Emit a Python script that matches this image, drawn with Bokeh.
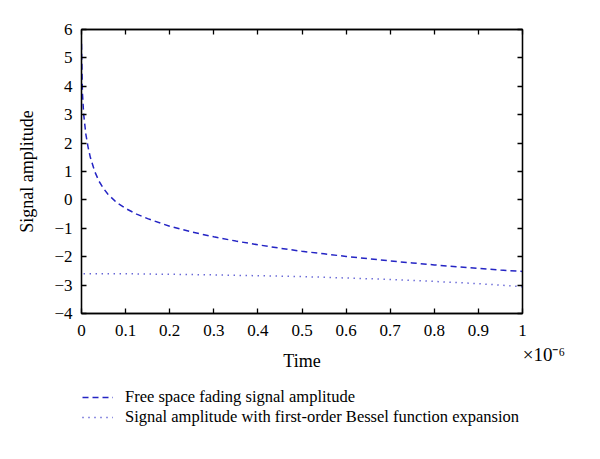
from bokeh.plotting import figure
from bokeh.layouts import column
from bokeh.models import Legend, LegendItem, LinearAxis, FixedTicker, Range1d
from bokeh.embed import file_html
from bokeh.resources import INLINE

# ---- data (time in units of 1e-6) ----
free_t = [0, 0.002, 0.005, 0.01, 0.015, 0.02, 0.03, 0.04, 0.05, 0.06, 0.08, 0.1,
          0.125, 0.15, 0.2, 0.25, 0.3, 0.35, 0.4, 0.45, 0.5, 0.55, 0.6, 0.65,
          0.7, 0.75, 0.8, 0.85, 0.9, 0.95, 1.0]
free_amp = [5.5, 3.8, 3.0, 2.3, 1.85, 1.5, 1.0, 0.65, 0.4, 0.2, -0.1, -0.3,
            -0.5, -0.66, -0.93, -1.13, -1.3, -1.45, -1.58, -1.7, -1.81, -1.9,
            -1.99, -2.07, -2.15, -2.22, -2.29, -2.35, -2.41, -2.47, -2.52]
bessel_t = [0.005, 0.1, 0.2, 0.3, 0.4, 0.5, 0.6, 0.7, 0.8, 0.9, 0.95, 1.0]
bessel_amp = [-2.6, -2.6, -2.62, -2.64, -2.67, -2.7, -2.75, -2.8, -2.87, -2.95,
              -3.0, -3.06]

x_ticks = [0, 0.1, 0.2, 0.3, 0.4, 0.5, 0.6, 0.7, 0.8, 0.9, 1.0]
x_tick_labels = ["0", "0.1", "0.2", "0.3", "0.4", "0.5", "0.6", "0.7", "0.8", "0.9", "1"]
y_ticks = [-4, -3, -2, -1, 0, 1, 2, 3, 4, 5, 6]
y_tick_labels = ["\u22124", "\u22123", "\u22122", "\u22121", "0", "1", "2", "3", "4", "5", "6"]

series_names = ["Free space fading signal amplitude",
                "Signal amplitude with first-order Bessel function expansion"]
x_scale_text = "\u00d710\u207b\u2076"

FONT = "Liberation Serif"
BLUE = "#2424c4"

p = figure(width=584, height=390, x_range=Range1d(0, 1), y_range=Range1d(-4, 6),
           output_backend="svg", toolbar_location=None,
           min_border_left=81, min_border_right=62, min_border_top=29,
           min_border_bottom=77,
           x_axis_label="Time", y_axis_label="Signal amplitude")
p.xgrid.visible = False
p.ygrid.visible = False
p.outline_line_color = "black"
p.outline_line_width = 1.3
p.background_fill_color = "white"
p.border_fill_color = "white"

p.add_layout(LinearAxis(), "above")
p.add_layout(LinearAxis(), "right")

for ax in p.xaxis:
    ax.ticker = FixedTicker(ticks=x_ticks)
    ax.major_label_overrides = {t: l for t, l in zip(x_ticks, x_tick_labels)}
for ax in p.yaxis:
    ax.ticker = FixedTicker(ticks=y_ticks)
    ax.major_label_overrides = {t: l for t, l in zip(y_ticks, y_tick_labels)}

for ax in list(p.xaxis) + list(p.yaxis):
    ax.axis_line_color = "black"
    ax.axis_line_width = 1.3
    ax.major_tick_line_color = "black"
    ax.major_tick_line_width = 1.3
    ax.major_tick_in = 5
    ax.major_tick_out = 0
    ax.minor_tick_line_color = None
    ax.major_label_text_font = FONT
    ax.major_label_text_font_size = "17px"
    ax.major_label_text_color = "black"
    ax.axis_label_text_font = FONT
    ax.axis_label_text_font_size = "18px"
    ax.axis_label_text_font_style = "normal"
    ax.axis_label_text_color = "black"

p.above[0].major_label_overrides = {t: "" for t in x_ticks}
p.above[0].major_label_text_color = None
p.above[0].major_label_standoff = 0
p.right[0].major_label_overrides = {t: "" for t in y_ticks}
p.right[0].major_label_text_color = None
p.right[0].major_label_standoff = 0

p.below[0].major_label_standoff = 11
p.below[0].axis_label_standoff = 12
p.left[0].major_label_standoff = 9
p.left[0].axis_label_standoff = 14

# axis carrying the x-scale factor text at the right end (label is centred on
# the tick, so leading no-break spaces push the visible text to the right)
scale_axis = LinearAxis(ticker=FixedTicker(ticks=[x_ticks[-1]]),
                        major_label_overrides={x_ticks[-1]: "\u00a0" * 9 + x_scale_text},
                        axis_line_color=None, major_tick_line_color=None,
                        minor_tick_line_color=None,
                        major_tick_in=0, major_tick_out=0,
                        major_label_standoff=-30,
                        major_label_text_font=FONT,
                        major_label_text_font_size="19px",
                        major_label_text_color="black")
p.add_layout(scale_axis, "below")

r1 = p.line(free_t, free_amp, line_color=BLUE, line_width=1.5, line_dash="6 4")
r2 = p.line(bessel_t, bessel_amp, line_color=BLUE, line_width=1.5, line_dash="1 5")

# legend strip below the chart; its own data area shows nothing
q = figure(width=584, height=53, x_range=Range1d(0, 1), y_range=Range1d(100, 101),
           output_backend="svg", toolbar_location=None,
           min_border_left=81, min_border_right=62, min_border_top=0,
           min_border_bottom=0, x_axis_location=None, y_axis_location=None)
q.xgrid.visible = False
q.ygrid.visible = False
q.outline_line_color = None
q.background_fill_color = "white"
q.border_fill_color = "white"
l1 = q.line(free_t, free_amp, line_color=BLUE, line_width=1.5, line_dash="6 4")
l2 = q.line(bessel_t, bessel_amp, line_color=BLUE, line_width=1.5, line_dash="1 5")
legend = Legend(items=[LegendItem(label=series_names[0], renderers=[l1]),
                       LegendItem(label=series_names[1], renderers=[l2])],
                location=(1, 16), orientation="vertical",
                padding=0, margin=0, spacing=0,
                glyph_width=31, glyph_height=18, label_height=18,
                label_standoff=12,
                label_text_font=FONT, label_text_font_size="16.5px",
                label_text_color="black",
                background_fill_alpha=0, border_line_alpha=0)
q.add_layout(legend)

layout = column(p, q, spacing=0)
open("out.html", "w").write(file_html(layout, INLINE))
